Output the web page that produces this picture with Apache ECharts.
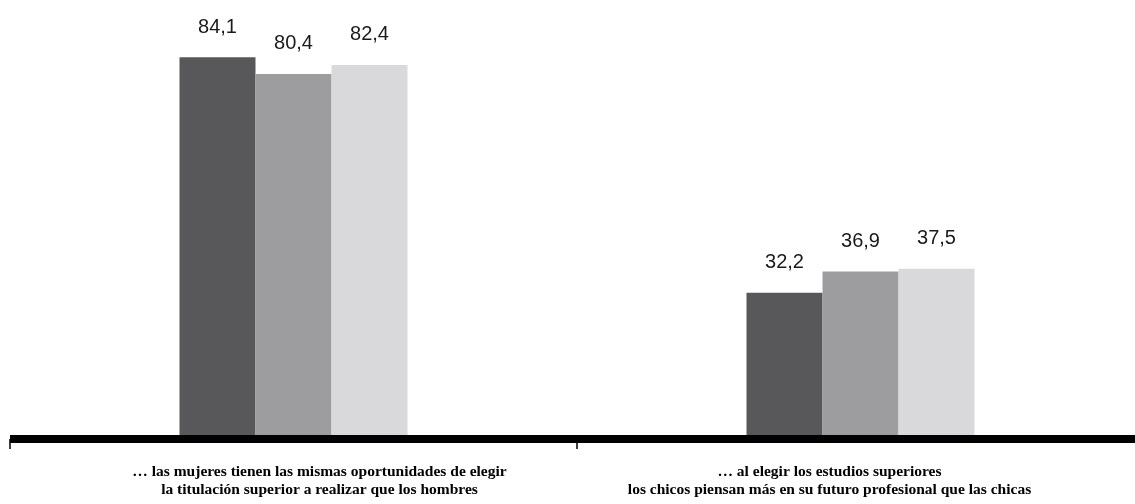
<!DOCTYPE html>
<html>
<head>
<meta charset="utf-8">
<script src="https://cdn.jsdelivr.net/npm/echarts@6/dist/echarts.min.js"></script>
<style>
html,body{margin:0;padding:0;background:#fff;}
#chart{width:1135px;height:504px;}
</style>
</head>
<body>
<div id="chart"></div>
<script>
const categories = [
  '… las mujeres tienen las mismas oportunidades de elegir\nla titulación superior a realizar que los hombres',
  '… al elegir los estudios superiores\nlos chicos piensan más en su futuro profesional que las chicas'
];
const seriesA = [84.1, 32.2];
const seriesB = [80.4, 36.9];
const seriesC = [82.4, 37.5];
const seriesNames = ['Serie 1', 'Serie 2', 'Serie 3'];
const colors = ['#58585a', '#9d9d9f', '#d9d9db'];

const chart = echarts.init(document.getElementById('chart'), null, {renderer: 'canvas'});
const labelStyle = {
  show: true,
  position: 'top',
  distance: 20,
  fontFamily: '"Liberation Sans", Arial, sans-serif',
  fontSize: 20,
  color: '#1a1a1a',
  formatter: p => String(p.value).replace('.', ',')
};
function mk(name, data, color) {
  return {
    name: name, type: 'bar', data: data, barWidth: 76, barGap: '0%',
    itemStyle: {color: color}, label: labelStyle, z: 2
  };
}
chart.setOption({
  animation: false,
  grid: {left: 10, width: 1134, top: 30.4, bottom: 65, containLabel: false, outerBoundsMode: 'none'},
  xAxis: {
    type: 'category',
    data: [
      {value: categories[0], textStyle: {padding: [0, 0, 0, 52]}},
      {value: categories[1], textStyle: {padding: [0, 62, 0, 0]}}
    ],
    z: 10,
    axisLine: {lineStyle: {color: '#000', width: 8, cap: 'butt'}},
    axisTick: {show: true, length: 10, lineStyle: {color: '#000', width: 1.5}},
    axisLabel: {
      margin: 24,
      fontFamily: '"Liberation Serif", "Times New Roman", serif',
      fontWeight: 'bold',
      fontSize: 15.5,
      lineHeight: 18,
      color: '#000',
      interval: 0
    }
  },
  yAxis: {type: 'value', min: 0, max: 90, show: false, splitLine: {show: false}},
  series: [
    mk(seriesNames[0], seriesA, colors[0]),
    mk(seriesNames[1], seriesB, colors[1]),
    mk(seriesNames[2], seriesC, colors[2])
  ]
});
</script>
</body>
</html>
